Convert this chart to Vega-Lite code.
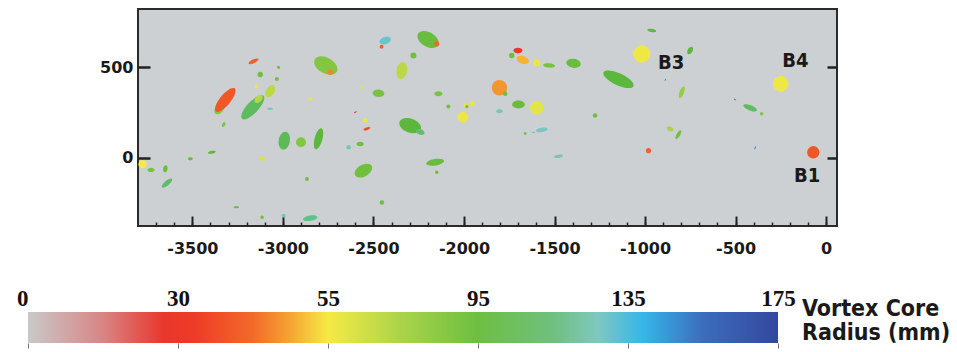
{
  "$schema": "https://vega.github.io/schema/vega-lite/v6.json",
  "background": "white",
  "padding": {"left": 16, "top": 8, "right": 0, "bottom": 0},
  "spacing": 30,
  "config": {"axis": {"grid": false, "domain": false, "title": null}},
  "datasets": {
    "blobs": [
      {"x":-3775,"y":-35,"r":55,"len":45,"ang":0,"form":"round"},
      {"x":-3728,"y":-66,"r":88,"len":39,"ang":0,"form":"oval"},
      {"x":-3649,"y":-60,"r":92,"len":39,"ang":-80,"form":"oval"},
      {"x":-3640,"y":-139,"r":112,"len":72,"ang":-40,"form":"long"},
      {"x":-3511,"y":-5,"r":92,"len":28,"ang":0,"form":"oval"},
      {"x":-3392,"y":31,"r":95,"len":44,"ang":-10,"form":"long"},
      {"x":-3350,"y":270,"r":85,"len":70,"ang":-50,"form":"oval"},
      {"x":-3318,"y":319,"r":38,"len":165,"ang":-51,"form":"long"},
      {"x":-3327,"y":184,"r":88,"len":28,"ang":-60,"form":"oval"},
      {"x":-3166,"y":279,"r":108,"len":175,"ang":-47,"form":"long"},
      {"x":-3134,"y":325,"r":72,"len":55,"ang":-47,"form":"oval"},
      {"x":-3070,"y":367,"r":70,"len":75,"ang":-60,"form":"oval"},
      {"x":-3125,"y":459,"r":90,"len":30,"ang":0,"form":"round"},
      {"x":-3162,"y":532,"r":40,"len":60,"ang":-25,"form":"long"},
      {"x":-3033,"y":435,"r":90,"len":22,"ang":0,"form":"round"},
      {"x":-3147,"y":393,"r":58,"len":22,"ang":0,"form":"round"},
      {"x":-3024,"y":499,"r":90,"len":18,"ang":0,"form":"round"},
      {"x":-3070,"y":270,"r":125,"len":33,"ang":0,"form":"long"},
      {"x":-3116,"y":-5,"r":62,"len":38,"ang":0,"form":"oval"},
      {"x":-2992,"y":95,"r":105,"len":100,"ang":-80,"form":"oval"},
      {"x":-2900,"y":86,"r":85,"len":55,"ang":0,"form":"round"},
      {"x":-2803,"y":105,"r":95,"len":120,"ang":-75,"form":"long"},
      {"x":-2763,"y":509,"r":85,"len":140,"ang":30,"form":"oval"},
      {"x":-2739,"y":472,"r":45,"len":30,"ang":0,"form":"round"},
      {"x":-2472,"y":356,"r":88,"len":65,"ang":5,"form":"oval"},
      {"x":-2343,"y":481,"r":70,"len":95,"ang":-80,"form":"oval"},
      {"x":-2279,"y":564,"r":90,"len":33,"ang":0,"form":"round"},
      {"x":-2435,"y":646,"r":130,"len":65,"ang":-20,"form":"oval"},
      {"x":-2455,"y":612,"r":40,"len":22,"ang":0,"form":"round"},
      {"x":-2198,"y":652,"r":92,"len":128,"ang":30,"form":"oval"},
      {"x":-2150,"y":628,"r":42,"len":28,"ang":0,"form":"round"},
      {"x":-2141,"y":353,"r":88,"len":44,"ang":0,"form":"oval"},
      {"x":-2086,"y":283,"r":90,"len":22,"ang":0,"form":"round"},
      {"x":-2006,"y":224,"r":58,"len":60,"ang":0,"form":"round"},
      {"x":-1993,"y":288,"r":60,"len":25,"ang":0,"form":"round"},
      {"x":-2297,"y":178,"r":95,"len":125,"ang":20,"form":"oval"},
      {"x":-2242,"y":143,"r":115,"len":50,"ang":20,"form":"oval"},
      {"x":-2573,"y":77,"r":90,"len":40,"ang":0,"form":"oval"},
      {"x":-2637,"y":59,"r":125,"len":25,"ang":0,"form":"round"},
      {"x":-2536,"y":160,"r":35,"len":40,"ang":-20,"form":"long"},
      {"x":-2545,"y":206,"r":58,"len":25,"ang":0,"form":"round"},
      {"x":-2600,"y":251,"r":30,"len":18,"ang":-30,"form":"long"},
      {"x":-2555,"y":-70,"r":90,"len":105,"ang":-30,"form":"oval"},
      {"x":-2159,"y":-24,"r":92,"len":100,"ang":-10,"form":"long"},
      {"x":-2150,"y":-79,"r":90,"len":20,"ang":0,"form":"round"},
      {"x":-2867,"y":-116,"r":90,"len":22,"ang":0,"form":"round"},
      {"x":-2453,"y":-245,"r":90,"len":25,"ang":0,"form":"round"},
      {"x":-3257,"y":-272,"r":92,"len":30,"ang":0,"form":"long"},
      {"x":-2849,"y":-332,"r":118,"len":80,"ang":-10,"form":"long"},
      {"x":-2996,"y":-318,"r":125,"len":22,"ang":0,"form":"round"},
      {"x":-3115,"y":-327,"r":90,"len":20,"ang":0,"form":"round"},
      {"x":-2849,"y":325,"r":60,"len":20,"ang":0,"form":"round"},
      {"x":-1956,"y":298,"r":60,"len":30,"ang":0,"form":"round"},
      {"x":-1984,"y":283,"r":90,"len":18,"ang":0,"form":"round"},
      {"x":-2563,"y":386,"r":60,"len":15,"ang":0,"form":"round"},
      {"x":-1736,"y":564,"r":90,"len":30,"ang":0,"form":"round"},
      {"x":-1675,"y":540,"r":50,"len":70,"ang":20,"form":"oval"},
      {"x":-1702,"y":591,"r":30,"len":50,"ang":0,"form":"oval"},
      {"x":-1598,"y":524,"r":58,"len":40,"ang":0,"form":"round"},
      {"x":-1530,"y":509,"r":88,"len":66,"ang":5,"form":"long"},
      {"x":-1395,"y":521,"r":92,"len":80,"ang":10,"form":"oval"},
      {"x":-1147,"y":433,"r":95,"len":183,"ang":25,"form":"long"},
      {"x":-1018,"y":573,"r":57,"len":95,"ang":0,"form":"round"},
      {"x":-963,"y":702,"r":100,"len":50,"ang":10,"form":"long"},
      {"x":-751,"y":591,"r":95,"len":45,"ang":-60,"form":"oval"},
      {"x":-888,"y":430,"r":150,"len":15,"ang":-70,"form":"long"},
      {"x":-797,"y":362,"r":80,"len":70,"ang":-70,"form":"long"},
      {"x":-1804,"y":386,"r":47,"len":85,"ang":0,"form":"round"},
      {"x":-1772,"y":353,"r":90,"len":25,"ang":0,"form":"round"},
      {"x":-1699,"y":294,"r":92,"len":70,"ang":0,"form":"oval"},
      {"x":-1598,"y":276,"r":60,"len":75,"ang":-80,"form":"round"},
      {"x":-1804,"y":257,"r":125,"len":35,"ang":0,"form":"oval"},
      {"x":-1570,"y":154,"r":128,"len":65,"ang":-10,"form":"long"},
      {"x":-1616,"y":141,"r":120,"len":20,"ang":0,"form":"long"},
      {"x":-1662,"y":135,"r":90,"len":15,"ang":0,"form":"round"},
      {"x":-1478,"y":9,"r":125,"len":50,"ang":-5,"form":"long"},
      {"x":-1276,"y":233,"r":90,"len":25,"ang":0,"form":"round"},
      {"x":-862,"y":160,"r":75,"len":40,"ang":30,"form":"oval"},
      {"x":-816,"y":128,"r":90,"len":55,"ang":-60,"form":"long"},
      {"x":-981,"y":40,"r":40,"len":28,"ang":0,"form":"round"},
      {"x":-251,"y":408,"r":57,"len":85,"ang":0,"form":"round"},
      {"x":-503,"y":321,"r":155,"len":15,"ang":30,"form":"long"},
      {"x":-420,"y":276,"r":110,"len":80,"ang":22,"form":"long"},
      {"x":-356,"y":243,"r":85,"len":20,"ang":0,"form":"round"},
      {"x":-392,"y":55,"r":150,"len":18,"ang":-70,"form":"long"},
      {"x":-71,"y":31,"r":38,"len":68,"ang":0,"form":"round"}
    ],
    "labels": [
      {"x":-856,"y":522,"t":"B3"},
      {"x":-170,"y":533,"t":"B4"},
      {"x":-105,"y":-100,"t":"B1"}
    ],
    "bar": [{"lo":0,"hi":175,"bottom":0,"top":1,"mid":0.5}]
  },
  "vconcat": [
    {
      "width": 699,
      "height": 217,
      "view": {"fill": "#cdd0d3", "stroke": "#2b2b2b", "strokeWidth": 2},
      "layer": [
        {
          "data": {"name": "blobs"},
          "mark": {"type": "point", "filled": true, "opacity": 1, "strokeWidth": 0, "clip": true},
          "encoding": {
            "x": {"field": "x", "type": "quantitative",
                  "scale": {"domain": [-3800, 60], "nice": false, "zero": false},
                  "axis": {"orient": "bottom", "values": [-3500,-3000,-2500,-2000,-1500,-1000,-500,0],
                           "labelExpr": "datum.value + ''",
                           "tickSize": -10, "tickWidth": 2, "tickColor": "#222",
                           "labelFont": "DejaVu Sans", "labelFontWeight": "bold", "labelFontSize": 16,
                           "labelColor": "#1a1a1a", "labelPadding": 24, "labelBaseline": "top",
                           "labelFlush": false, "labelOverlap": false}},
            "y": {"field": "y", "type": "quantitative",
                  "scale": {"domain": [-375, 820], "nice": false, "zero": false},
                  "axis": {"orient": "left", "values": [0, 500],
                           "tickSize": -12, "tickWidth": 2.5, "tickColor": "#222",
                           "labelFont": "DejaVu Sans", "labelFontWeight": "bold", "labelFontSize": 16,
                           "labelColor": "#1a1a1a", "labelPadding": 17}},
            "color": {"field": "r", "type": "quantitative", "legend": null,
                      "scale": {"type": "linear",
                                "domain": [0,15,27,32.5,42.5,48.75,55,75,95,115,127,139,155,175],
                                "range": ["#c9c9c9","#d88585","#e8382c","#ee3a26","#f26a2a","#f5a534","#f6ea45","#a9d34a","#5cb83c","#62bd6e","#7fc8c0","#35b6e8","#3b6dbd","#34479e"]}},
            "size": {"field": "len", "type": "quantitative", "legend": null,
                     "scale": {"type": "pow", "exponent": 2, "domain": [0, 200], "range": [0, 1311]}},
            "angle": {"field": "ang", "type": "quantitative", "scale": null},
            "shape": {"field": "form", "type": "nominal", "legend": null,
                      "scale": {"domain": ["round","oval","long"],
                                "range": ["circle",
                                          "M-1,0A1,0.62 0 1,0 1,0A1,0.62 0 1,0 -1,0Z",
                                          "M-1,0A1,0.36 0 1,0 1,0A1,0.36 0 1,0 -1,0Z"]}}
          }
        },
        {
          "data": {"name": "labels"},
          "mark": {"type": "text", "font": "DejaVu Sans Condensed, Liberation Sans", "fontWeight": "bold", "fontSize": 20, "color": "#1a1a1a"},
          "encoding": {
            "x": {"field": "x", "type": "quantitative",
                  "scale": {"domain": [-3800, 60], "nice": false, "zero": false},
                  "axis": {"orient": "bottom", "labels": false, "tickSize": -4, "tickWidth": 1.5, "tickColor": "#222",
                           "values": [-3700,-3600,-3500,-3400,-3300,-3200,-3100,-3000,-2900,-2800,-2700,-2600,-2500,-2400,-2300,-2200,-2100,-2000,-1900,-1800,-1700,-1600,-1500,-1400,-1300,-1200,-1100,-1000,-900,-800,-700,-600,-500,-400,-300,-200,-100,0]}},
            "y": {"field": "y", "type": "quantitative",
                  "scale": {"domain": [-375, 820], "nice": false, "zero": false},
                  "axis": {"orient": "right", "labels": false, "values": [0, 500],
                           "tickSize": -10, "tickWidth": 2.5, "tickColor": "#222"}},
            "text": {"field": "t", "type": "nominal"}
          }
        }
      ],
      "resolve": {"axis": {"x": "independent", "y": "independent"}}
    },
    {
      "width": 640,
      "height": 31,
      "view": {"stroke": null},
      "data": {"name": "bar"},
      "layer": [
        {
          "mark": {"type": "rect",
                   "fill": {"gradient": "linear", "x1": 0, "x2": 1, "y1": 0, "y2": 0,
                            "stops": [
                              {"offset": 0, "color": "#c9c9c9"},
                              {"offset": 0.1, "color": "#d88585"},
                              {"offset": 0.18, "color": "#e8382c"},
                              {"offset": 0.22, "color": "#ee3a26"},
                              {"offset": 0.3, "color": "#f26a2a"},
                              {"offset": 0.35, "color": "#f5a534"},
                              {"offset": 0.4, "color": "#f6ea45"},
                              {"offset": 0.5, "color": "#a9d34a"},
                              {"offset": 0.6, "color": "#6dbf41"},
                              {"offset": 0.7, "color": "#6fc07e"},
                              {"offset": 0.76, "color": "#7fc8c0"},
                              {"offset": 0.82, "color": "#35b6e8"},
                              {"offset": 0.9, "color": "#3b6dbd"},
                              {"offset": 1, "color": "#34479e"}
                            ]}},
          "encoding": {
            "x": {"field": "lo", "type": "quantitative",
                  "scale": {"domain": [0, 30, 55, 95, 135, 175], "range": [-110, 40, 190, 340, 490, 640], "nice": false, "zero": false},
                  "axis": {"orient": "top", "values": [0, 30, 55, 95, 135, 175], "ticks": false,
                           "labelFont": "Liberation Serif", "labelFontWeight": "bold", "labelFontSize": 23,
                           "labelColor": "#111", "labelBaseline": "alphabetic", "labelPadding": 7,
                           "labelAlign": {"condition": {"test": "datum.value == 0", "value": "right"}, "value": "center"},
                           "labelFlush": false, "labelOverlap": false}},
            "x2": {"field": "hi"},
            "y": {"field": "bottom", "type": "quantitative", "scale": {"domain": [0, 1], "nice": false, "zero": false}, "axis": null},
            "y2": {"field": "top"}
          }
        },
        {
          "mark": {"type": "text", "text": ["Vortex Core", "Radius (mm)"], "align": "left", "baseline": "middle",
                   "dx": 24, "dy": -19, "font": "DejaVu Sans Condensed, Liberation Sans", "fontWeight": "bold", "fontSize": 23, "lineHeight": 24, "color": "#1a1a1a"},
          "encoding": {
            "x": {"field": "hi", "type": "quantitative",
                  "axis": {"orient": "bottom", "values": [0, 30, 55, 95, 135, 175], "labels": false,
                           "tickSize": 5, "tickWidth": 1, "tickColor": "#777"}},
            "y": {"field": "mid", "type": "quantitative", "axis": null}
          }
        }
      ],
      "resolve": {"axis": {"x": "independent"}}
    }
  ]
}
